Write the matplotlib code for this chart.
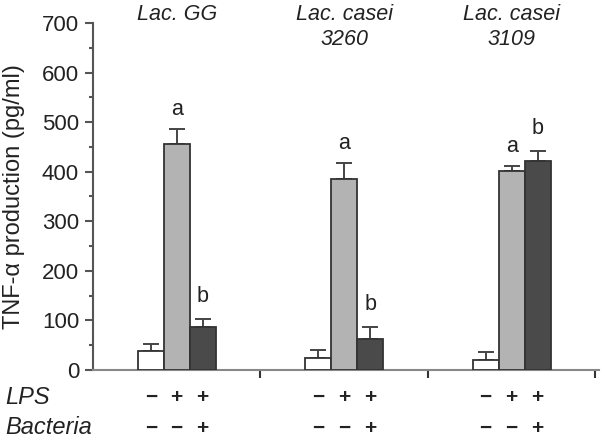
import matplotlib.pyplot as plt
import numpy as np

plt.rcParams['font.family'] = ['Liberation Sans', 'DejaVu Sans']

# Strains (group titles)
strains = ["Lac. GG", "Lac. casei\n3260", "Lac. casei\n3109"]

# TNF-alpha means (pg/ml) for control, LPS, LPS + bacteria
control = [38, 24, 21]
lps = [455, 386, 402]
lps_bacteria = [87, 63, 422]

# Error bars (upper SE)
control_err = [15, 16, 15]
lps_err = [32, 32, 9]
lps_bacteria_err = [15, 23, 19]

# Significance letters
lps_letters = ["a", "a", "a"]
lps_bacteria_letters = ["b", "b", "b"]

# Treatment rows under the x axis
lps_signs = ["\u2212", "+", "+"]
bacteria_signs = ["\u2212", "\u2212", "+"]

y_ticks = [0, 100, 200, 300, 400, 500, 600, 700]

fig = plt.figure(figsize=(6.02, 4.38), dpi=100)
ax = fig.add_axes([0.1545, 0.1553, 0.84, 0.7922])

centers = np.arange(len(strains)) + 0.5
w = 0.155
edge = '#333333'
series = [
    (control, control_err, 'white', -w),
    (lps, lps_err, '#b3b3b3', 0),
    (lps_bacteria, lps_bacteria_err, '#4a4a4a', w),
]

for vals, errs, color, off in series:
    x = centers + off
    ax.bar(x, vals, width=w, color=color, edgecolor=edge, linewidth=1.3, zorder=3)
    ax.errorbar(x, vals, yerr=[np.zeros(len(vals)), errs], fmt='none',
                ecolor='#444444', elinewidth=1.4, capsize=6, capthick=1.4, zorder=2)

# letters above error bars and strain names on top
title_trans = ax.get_xaxis_transform()
for i in range(len(strains)):
    ax.text(centers[i], lps[i] + lps_err[i] + 28, lps_letters[i],
            ha='center', va='baseline', fontsize=15.5, color='#222222')
    ax.text(centers[i] + w, lps_bacteria[i] + lps_bacteria_err[i] + 36,
            lps_bacteria_letters[i], ha='center', va='baseline', fontsize=15.5,
            color='#222222')
    ax.text(centers[i], 1.056, strains[i], transform=title_trans,
            ha='center', va='top', fontsize=15.5, style='italic',
            color='#222222', linespacing=1.25, clip_on=False)

ax.set_xlim(0, 3.02)
ax.set_ylim(0, 700)
ax.set_yticks(y_ticks)
ax.set_yticks(np.arange(50, 700, 100), minor=True)
ax.set_xticks([1, 2, 3])
ax.set_xticklabels([])

ax.spines['top'].set_visible(False)
ax.spines['right'].set_visible(False)
ax.spines['left'].set_color('#555555')
ax.spines['left'].set_linewidth(1.5)
ax.spines['bottom'].set_color('#888888')
ax.spines['bottom'].set_linewidth(1.5)

ax.tick_params(axis='y', which='major', length=6, width=1.5, color='#555555',
               labelsize=16, labelcolor='#222222', pad=4)
ax.tick_params(axis='y', which='minor', length=3, width=1.5, color='#555555')
ax.tick_params(axis='x', which='major', length=6, width=1.5, color='#333333')

ax.set_ylabel("TNF-\u03b1 production (pg/ml)", fontsize=17, color='#222222')
ax.yaxis.set_label_coords(-0.135, 0.5)

# treatment rows
trans = ax.get_xaxis_transform()
fig.text(0.008, 1 - 397 / 438, "LPS", fontsize=17, style='italic',
         va='center', ha='left', color='#222222')
fig.text(0.008, 1 - 428 / 438, "Bacteria", fontsize=17, style='italic',
         va='center', ha='left', color='#222222')
for i in range(len(strains)):
    for j, off in enumerate([-w, 0, w]):
        ax.text(centers[i] + off, -0.078, lps_signs[j], transform=trans,
                ha='center', va='center', fontsize=15, fontweight='bold',
                color='#222222', clip_on=False)
        ax.text(centers[i] + off, -0.168, bacteria_signs[j], transform=trans,
                ha='center', va='center', fontsize=15, fontweight='bold',
                color='#222222', clip_on=False)

fig.savefig("out.png", dpi=100)
